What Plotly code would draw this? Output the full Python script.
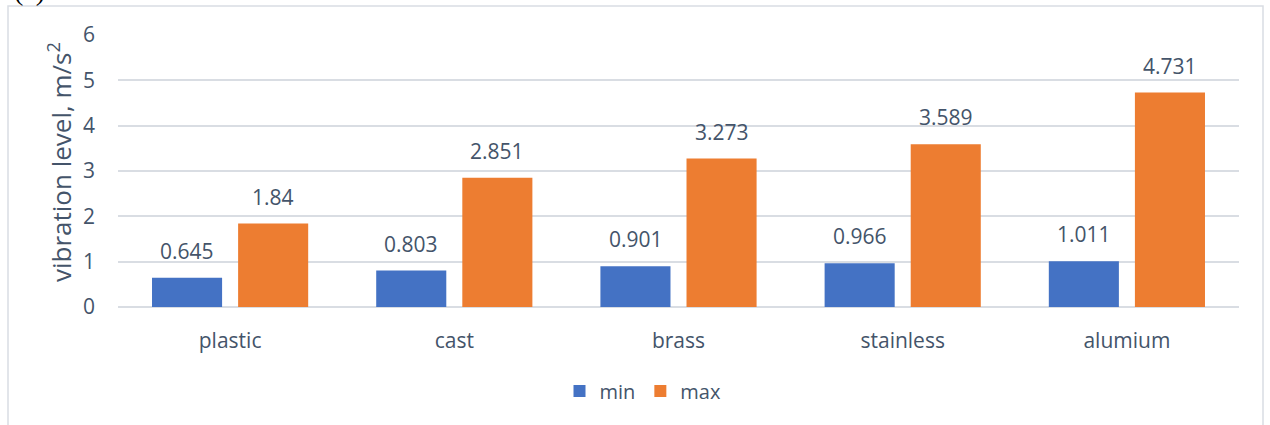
import plotly.graph_objects as go

categories = ["plastic", "cast", "brass", "stainless", "alumium"]
min_vals = [0.645, 0.803, 0.901, 0.966, 1.011]
max_vals = [1.84, 2.851, 3.273, 3.589, 4.731]
y_ticks = [0, 1, 2, 3, 4, 5, 6]

txt_color = "#44546A"
font_fam = "Open Sans, Lato, sans-serif"

W, H = 1270, 425
l, r, t, b = 118, 31, 35, 118
pw, ph = W - l - r, H - t - b

def px_x(x):
    return (x - l) / pw

def px_y(y):
    return (H - b - y) / ph

fig = go.Figure()
fig.add_trace(go.Bar(x=categories, y=min_vals, name="min",
                     marker=dict(color="#4472C4", line=dict(width=0))))
fig.add_trace(go.Bar(x=categories, y=max_vals, name="max",
                     marker=dict(color="#ED7D31", line=dict(width=0))))

annotations = []
for cat, v in zip(categories, min_vals):
    annotations.append(dict(x=cat, y=v, xref="x", yref="y", text=f"{v:g}", showarrow=False,
                            xanchor="center", yanchor="bottom", xshift=-43, yshift=11,
                            font=dict(size=21, color=txt_color, family=font_fam)))
for cat, v in zip(categories, max_vals):
    annotations.append(dict(x=cat, y=v, xref="x", yref="y", text=f"{v:g}", showarrow=False,
                            xanchor="center", yanchor="bottom", xshift=43, yshift=11,
                            font=dict(size=21, color=txt_color, family=font_fam)))
annotations.append(dict(x=px_x(60), y=px_y(162), xref="paper", yref="paper",
                        text="vibration level, m/s<sup>2</sup>", textangle=-90, showarrow=False,
                        xanchor="center", yanchor="middle",
                        font=dict(size=26, color=txt_color, family=font_fam)))
annotations.append(dict(x=px_x(29), y=px_y(8), xref="paper", yref="paper",
                        text="(a)", showarrow=False, xanchor="center", yanchor="bottom",
                        font=dict(size=28, color="#000000", family="Liberation Serif, Times New Roman, serif")))

fig.update_layout(
    width=W, height=H,
    margin=dict(l=l, r=r, t=t, b=b),
    paper_bgcolor="white", plot_bgcolor="white",
    barmode="group", bargap=0.232, bargroupgap=0.186,
    font=dict(family=font_fam, color=txt_color, size=20),
    showlegend=True,
    legend=dict(orientation="h", x=px_x(643), xanchor="center", y=px_y(391), yanchor="middle",
                font=dict(size=20, color=txt_color), traceorder="normal",
                itemwidth=30),
    xaxis=dict(showgrid=False, showline=False, ticks="", tickfont=dict(size=21, color=txt_color),
               ticklabelstandoff=19),
    yaxis=dict(range=[0, 6], tickvals=y_ticks, showgrid=True, gridcolor="#D9DDE3", gridwidth=1.5,
               zeroline=True, zerolinecolor="#D9DDE3", zerolinewidth=1.5, showline=False, ticks="",
               tickfont=dict(size=21, color=txt_color), ticklabelstandoff=22),
    annotations=annotations,
    shapes=[dict(type="rect", xref="paper", yref="paper",
                 x0=px_x(8), x1=px_x(1263), y0=px_y(H + 20), y1=px_y(6),
                 line=dict(color="#D9DDE3", width=1.5), fillcolor="rgba(0,0,0,0)", layer="below")],
)

fig.write_html("out.html")
